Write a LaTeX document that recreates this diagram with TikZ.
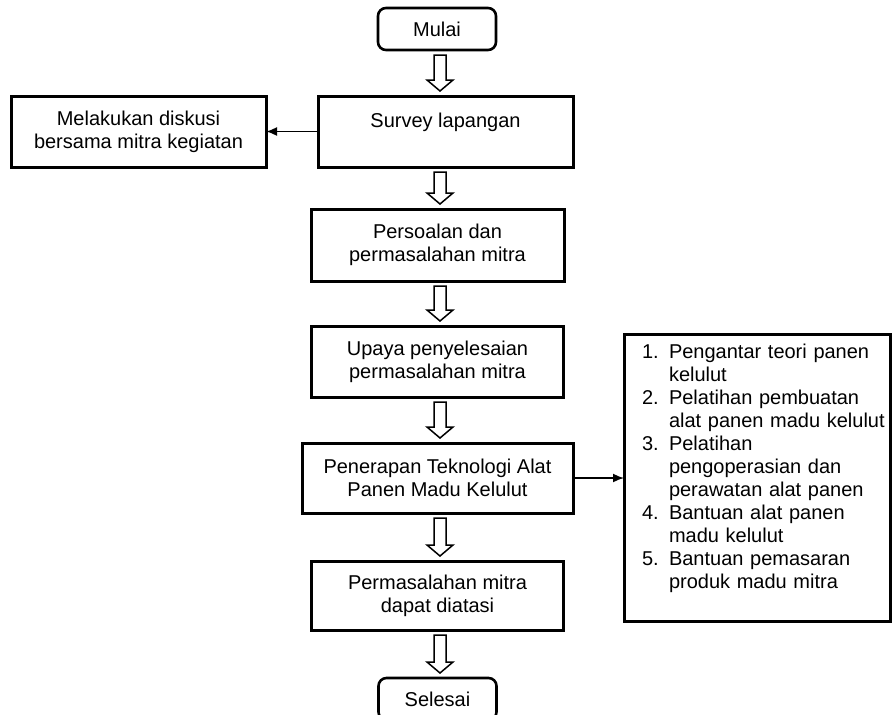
\documentclass[tikz,border=0pt]{standalone}
\usepackage{fontspec}
\setmainfont{Liberation Sans}
\usetikzlibrary{positioning,calc,arrows.meta}
\newcommand{\hollowarrow}[2]{%
  \draw[hollow] let \p1=(#1.south -| axis), \p2=(#2.north -| axis) in
    ({\x1-6pt},{\y1-5pt}) -- ({\x1-6pt},{\y2+16pt}) -- ({\x1-13pt},{\y2+16pt})
    -- ({\x1},{\y2+5pt}) -- ({\x1+13pt},{\y2+16pt}) -- ({\x1+6pt},{\y2+16pt})
    -- ({\x1+6pt},{\y1-5pt}) -- cycle;}
\newcommand{\listnum}[1]{\hspace*{13pt}\makebox[27pt][l]{#1}}
\newcommand{\listind}{\hspace*{40pt}}

\begin{document}
\begin{tikzpicture}[x=1pt,y=1pt,
    every node/.style={font=\fontsize{20}{23}\selectfont},
    box/.style={draw,line width=3pt,outer sep=0pt,inner sep=2pt,align=center,minimum height=70pt},
    endbox/.style={box,line width=2.6pt,rounded corners=8pt,minimum width=118pt,minimum height=42pt},
    hollow/.style={draw,line width=1.5pt},
    link/.style={line width=1.6pt,-{Latex[length=11pt,width=9pt]}}]
  \useasboundingbox (0,0) rectangle (892,-715);
  \coordinate (axis) at (440,0);
  \node[endbox] (mulai) at (437,-29) {Mulai};
  \node[box,minimum width=255pt,minimum height=71pt,below=46pt of mulai,xshift=8.5pt] (survey) {Survey lapangan\\ ~};
  \node[box,minimum width=255pt,minimum height=71pt,left=52pt of survey] (diskusi) {Melakukan diskusi\\ bersama mitra kegiatan};
  \node[box,minimum width=253pt,minimum height=72pt,below=42pt of survey,xshift=-8pt] (persoalan) {Persoalan dan\\ permasalahan mitra};
  \node[box,minimum width=252pt,minimum height=71pt,below=45pt of persoalan] (upaya) {Upaya penyelesaian\\ permasalahan mitra};
  \node[box,minimum width=271pt,below=46pt of upaya] (terapan) {Penerapan Teknologi Alat\\ Panen Madu Kelulut};
  \node[box,minimum width=252pt,minimum height=69pt,below=48pt of terapan] (masalah) {Permasalahan mitra\\ dapat diatasi};
  \node[endbox,below=48pt of masalah] (selesai) {Selesai};
  \node[box,minimum width=266pt,minimum height=287pt,text width=256pt,align=left,right=51pt of terapan] (kegiatan)
    {\hyphenpenalty=10000
     \listnum{1.}Pengantar teori panen\\ \listind kelulut\\
     \listnum{2.}Pelatihan pembuatan\\ \listind alat panen madu kelulut\\
     \listnum{3.}Pelatihan\\ \listind pengoperasian dan\\ \listind perawatan alat panen\\
     \listnum{4.}Bantuan alat panen\\ \listind madu kelulut\\
     \listnum{5.}Bantuan pemasaran\\ \listind produk madu mitra\\ ~};

  \hollowarrow{mulai}{survey}
  \hollowarrow{survey}{persoalan}
  \hollowarrow{persoalan}{upaya}
  \hollowarrow{upaya}{terapan}
  \hollowarrow{terapan}{masalah}
  \hollowarrow{masalah}{selesai}
  \draw[link] (survey) -- (diskusi);
  \draw[link] (terapan) -- (kegiatan);
\end{tikzpicture}
\end{document}
